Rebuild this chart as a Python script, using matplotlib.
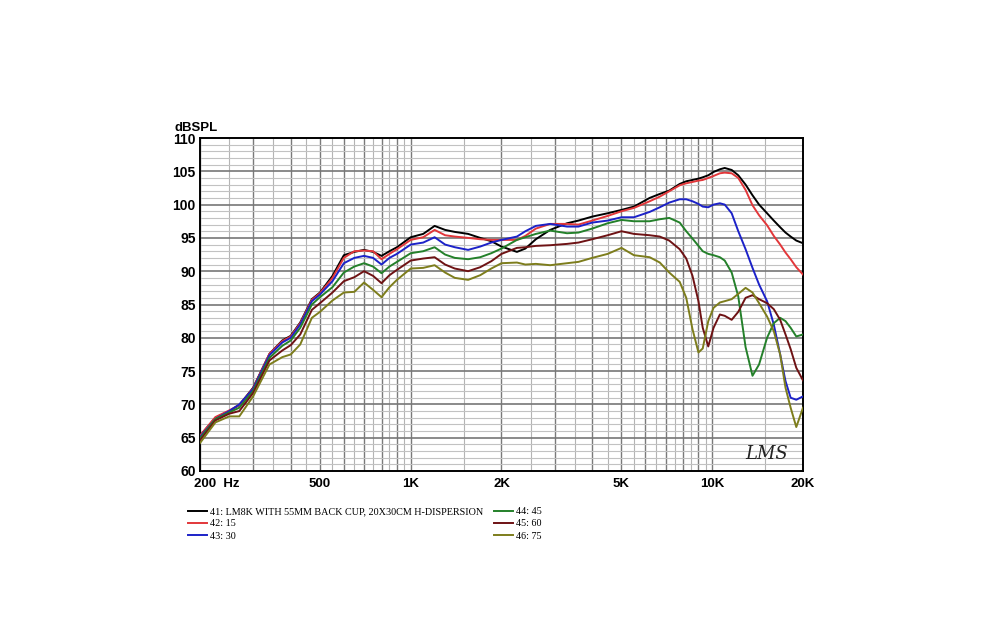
import numpy as np
import matplotlib
matplotlib.use("Agg")
import matplotlib.pyplot as plt
from matplotlib.ticker import FixedLocator, NullFormatter

# frequency grid (Hz) shared by all traces
freq = [200, 225, 250, 270, 300, 340, 375, 400, 430, 470, 500, 550, 600, 650, 700, 750,
        800, 850, 900, 1000, 1100, 1200, 1300, 1400, 1550, 1700, 1850, 2000, 2250, 2400,
        2600, 2900, 3300, 3600, 4000, 4500, 5000, 5500, 6200, 6700, 7200, 7800, 8200, 8600,
        9000, 9300, 9700, 10100, 10600, 11000, 11600, 12200, 12900, 13600, 14300, 15200,
        16000, 16800, 17500, 18200, 19000, 20000]

# dBSPL per angle
spl_0 = [65.3, 68.0, 69.0, 69.9, 72.5, 77.6, 79.6, 80.3, 82.3, 85.8, 86.8, 89.3, 92.4, 92.9,
         93.2, 92.9, 92.3, 93.0, 93.6, 95.1, 95.6, 96.8, 96.2, 95.9, 95.6, 95.0, 94.5, 93.7,
         92.9, 93.4, 94.8, 96.2, 97.2, 97.6, 98.2, 98.7, 99.2, 99.7, 101.0, 101.6, 102.1,
         103.1, 103.5, 103.7, 103.9, 104.1, 104.4, 104.9, 105.3, 105.5, 105.2, 104.4, 103.0,
         101.4, 100.0, 98.7, 97.6, 96.6, 95.8, 95.2, 94.6, 94.2]
spl_15 = [65.3, 68.1, 69.1, 69.9, 72.4, 77.6, 79.5, 80.2, 82.2, 85.7, 86.7, 89.0, 92.0, 93.0,
          93.1, 93.0, 91.8, 92.6, 93.3, 94.7, 95.1, 96.2, 95.4, 95.2, 95.0, 94.8, 94.7, 94.7,
          94.7, 95.3, 96.4, 97.1, 97.1, 97.0, 97.6, 98.3, 99.0, 99.5, 100.5, 101.2, 102.0,
          102.9, 103.2, 103.4, 103.6, 103.7, 104.0, 104.3, 104.7, 104.8, 104.7, 104.0, 102.2,
          99.9, 98.4, 96.9, 95.3, 94.0, 92.8, 91.8, 90.6, 89.5]
spl_30 = [65.1, 67.8, 69.0, 70.0, 72.3, 77.4, 79.3, 80.0, 82.0, 85.5, 86.5, 88.5, 91.2, 92.0,
          92.3, 92.0, 91.0, 92.0, 92.6, 94.0, 94.3, 95.1, 94.0, 93.6, 93.2, 93.7, 94.3, 94.7,
          95.2, 96.0, 96.8, 97.1, 96.7, 96.7, 97.3, 97.6, 98.1, 98.1, 98.9, 99.6, 100.3,
          100.8, 100.8, 100.5, 100.1, 99.7, 99.6, 100.0, 100.2, 100.0, 98.7, 96.0, 93.3,
          90.5, 88.0, 85.5, 82.0, 77.5, 73.5, 71.0, 70.7, 71.2]
spl_45 = [64.9, 67.8, 68.8, 69.5, 72.0, 77.0, 78.8, 79.6, 81.5, 85.0, 86.1, 87.6, 89.8, 90.7,
          91.2, 90.7, 89.7, 90.7, 91.4, 92.7, 93.0, 93.6, 92.5, 92.0, 91.8, 92.1, 92.7, 93.4,
          94.7, 95.1, 95.6, 96.1, 95.7, 95.8, 96.4, 97.2, 97.7, 97.5, 97.5, 97.8, 98.0, 97.3,
          96.0, 94.9, 93.8, 93.0, 92.6, 92.4, 92.1, 91.6, 89.8, 86.2, 78.6, 74.3, 76.0, 80.0,
          82.2, 83.0, 82.5, 81.5, 80.2, 80.5]
spl_60 = [64.6, 67.6, 68.6, 69.0, 71.7, 76.6, 78.1, 78.9, 80.5, 84.2, 85.2, 86.8, 88.5, 89.1,
          90.0, 89.3, 88.2, 89.4, 90.2, 91.6, 91.9, 92.1, 91.0, 90.4, 90.0, 90.6, 91.5, 92.6,
          93.5, 93.6, 93.8, 93.9, 94.1, 94.3, 94.8, 95.4, 96.0, 95.6, 95.4, 95.2, 94.6, 93.3,
          91.9, 89.3, 85.5, 81.5, 78.7, 81.5, 83.5, 83.3, 82.7, 83.9, 86.0, 86.4, 85.8, 85.2,
          84.3, 82.7, 80.5, 78.3, 75.5, 73.6]
spl_75 = [64.2, 67.3, 68.2, 68.2, 71.2, 76.0, 77.1, 77.5, 79.0, 83.0, 83.9, 85.6, 86.8, 86.9,
          88.3, 87.2, 86.1, 87.6, 88.7, 90.4, 90.5, 90.9, 89.8, 89.0, 88.7, 89.4, 90.4, 91.2,
          91.3, 91.0, 91.1, 90.9, 91.2, 91.4, 92.0, 92.6, 93.5, 92.4, 92.1, 91.3, 89.8, 88.4,
          86.0, 81.3, 77.8, 78.4, 82.5, 84.5, 85.3, 85.5, 85.8, 86.6, 87.5, 86.8, 85.2, 83.2,
          81.0, 77.5, 72.5, 69.5, 66.6, 69.5]

labels = ["41: LM8K WITH 55MM BACK CUP, 20X30CM H-DISPERSION", "42: 15", "43: 30",
          "44: 45", "45: 60", "46: 75"]
colors = ["#000000", "#e2373a", "#1c22c8", "#24802a", "#6e1214", "#7d7d1c"]
series = [spl_0, spl_15, spl_30, spl_45, spl_60, spl_75]

xtick_vals = [200, 500, 1000, 2000, 5000, 10000, 20000]
xtick_text = ["200  Hz", "500", "1K", "2K", "5K", "10K", "20K"]

fig = plt.figure(figsize=(10, 6.4), dpi=100)
ax = fig.add_axes([0.2, 1 - 471 / 640, 0.603, 333 / 640])
ax.set_xscale("log")
ax.set_xlim(200, 20000)
ax.set_ylim(60, 110)

# grid: majors at 1..9 x decade, minors at the halves
major_x = [m * d for d in (100, 1000, 10000) for m in range(1, 10) if 200 <= m * d <= 20000]
minor_x = [(m + 0.5) * d for d in (100, 1000, 10000) for m in range(1, 10) if 200 < (m + 0.5) * d < 20000]
for v in minor_x:
    ax.axvline(v, color="#b4b4b4", lw=0.8, zorder=0)
for v in major_x:
    ax.axvline(v, color="#7a7a7a", lw=1.0, zorder=0)
for v in range(61, 110):
    if v % 5:
        ax.axhline(v, color="#c2c2c2", lw=0.8, zorder=0)
    else:
        ax.axhline(v, color="#777777", lw=1.2, zorder=0)

for y, c, lab in zip(series, colors, labels):
    ax.plot(freq, y, color=c, lw=1.4, label=lab, zorder=3)

ax.xaxis.set_major_locator(FixedLocator([]))
ax.xaxis.set_minor_locator(FixedLocator([]))
ax.xaxis.set_minor_formatter(NullFormatter())
ax.set_yticks(range(60, 111, 5))
ax.tick_params(axis="y", length=0, pad=3, labelsize=10)
for t in ax.get_yticklabels():
    t.set_fontweight("bold")
    t.set_fontfamily("Liberation Sans")
for s in ax.spines.values():
    s.set_linewidth(1.4)
    s.set_color("black")

for v, t in zip(xtick_vals, xtick_text):
    ha = "left" if v == 200 else "center"
    xx = v * 0.955 if v == 200 else v
    ax.text(xx, -0.022, t, transform=ax.get_xaxis_transform(), ha=ha, va="top",
            fontsize=9.5, fontweight="bold", family="Liberation Sans")

ax.text(-0.042, 1.012, "dBSPL", transform=ax.transAxes, ha="left", va="bottom",
        fontsize=9.5, fontweight="bold", family="Liberation Sans")
ax.text(0.94, 0.025, "LMS", transform=ax.transAxes, ha="center", va="bottom",
        fontsize=13, fontstyle="italic", family="DejaVu Serif", color="#222222")

fig.legend(loc="upper left", bbox_to_anchor=(0.188, 1 - 507 / 640), ncol=2, frameon=False,
           prop={"family": "Liberation Serif", "size": 7.3}, handlelength=1.9,
           handletextpad=0.3, labelspacing=0.32, columnspacing=1.0, borderpad=0,
           borderaxespad=0)

fig.savefig("out.png", dpi=100)
